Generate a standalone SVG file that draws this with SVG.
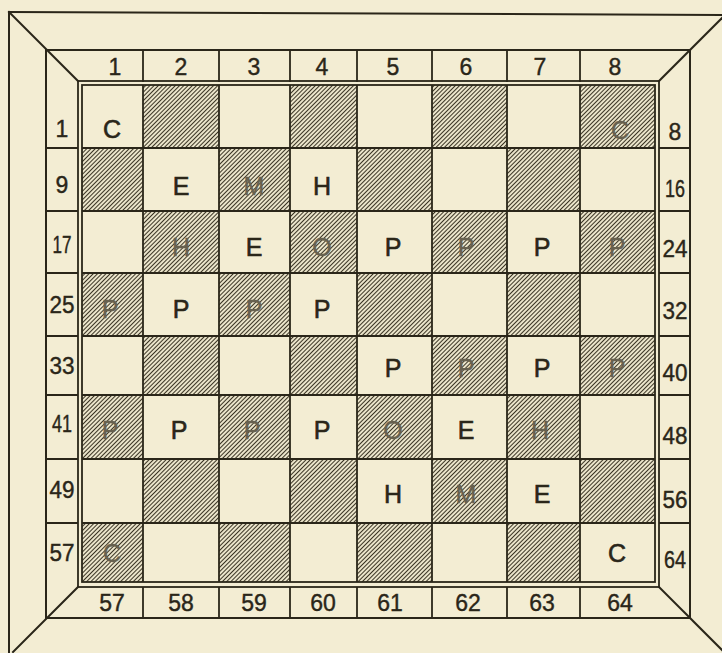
<svg xmlns="http://www.w3.org/2000/svg" width="722" height="653" viewBox="0 0 722 653">
<defs>
<pattern id="hatch" patternUnits="userSpaceOnUse" width="3" height="3" patternTransform="rotate(45)">
<rect width="3" height="3" fill="#f3edd3"/>
<line x1="1.5" y1="0" x2="1.5" y2="3" stroke="#3a3424" stroke-width="1.1"/>
</pattern>
<style>
.ln{stroke:#2a2619;stroke-width:2;fill:none;stroke-linecap:square}
.gl{stroke:#2a2619;stroke-width:1.8;fill:none}
.dk{fill:url(#hatch)}
.lb{font-family:"Liberation Sans",Arial,sans-serif;font-size:23px;fill:#2a2619;stroke:#2a2619;stroke-width:0.4;text-anchor:middle}
.sl{font-family:"Liberation Sans",Arial,sans-serif;font-size:23px;fill:#2a2619;stroke:#2a2619;stroke-width:0.4;text-anchor:middle}
.pc{font-family:"Liberation Sans",Arial,sans-serif;font-size:25px;fill:#2a2619;stroke:#2a2619;stroke-width:0.6;text-anchor:middle}
.pf{font-family:"Liberation Sans",Arial,sans-serif;font-size:25px;fill:#67614f;stroke:#67614f;stroke-width:0.4;text-anchor:middle}
</style>
</defs>
<rect width="722" height="653" fill="#f3edd3"/>

<g id="frame">
<line class="ln" x1="9" y1="12" x2="722" y2="15"/>
<line class="ln" x1="9" y1="12" x2="9" y2="653"/>
<line class="ln" x1="9" y1="12" x2="78" y2="81"/>
<line class="ln" x1="659" y1="81" x2="722" y2="18"/>
<line class="ln" x1="78" y1="587" x2="13" y2="652"/>
<line class="ln" x1="659" y1="587" x2="722" y2="650"/>
<rect class="ln" x="46" y="50" width="644" height="568"/>
</g>

<g id="squares">
<rect class="dk" x="143" y="85" width="76" height="63"/>
<rect class="dk" x="290" y="85" width="67" height="63"/>
<rect class="dk" x="432" y="85" width="75" height="63"/>
<rect class="dk" x="580" y="85" width="75" height="63"/>

<rect class="dk" x="82" y="148" width="61" height="63"/>
<rect class="dk" x="219" y="148" width="71" height="63"/>
<rect class="dk" x="357" y="148" width="75" height="63"/>
<rect class="dk" x="507" y="148" width="73" height="63"/>

<rect class="dk" x="143" y="211" width="76" height="62"/>
<rect class="dk" x="290" y="211" width="67" height="62"/>
<rect class="dk" x="432" y="211" width="75" height="62"/>
<rect class="dk" x="580" y="211" width="75" height="62"/>

<rect class="dk" x="82" y="273" width="61" height="63"/>
<rect class="dk" x="219" y="273" width="71" height="63"/>
<rect class="dk" x="357" y="273" width="75" height="63"/>
<rect class="dk" x="507" y="273" width="73" height="63"/>

<rect class="dk" x="143" y="336" width="76" height="59"/>
<rect class="dk" x="290" y="336" width="67" height="59"/>
<rect class="dk" x="432" y="336" width="75" height="59"/>
<rect class="dk" x="580" y="336" width="75" height="59"/>

<rect class="dk" x="82" y="395" width="61" height="64"/>
<rect class="dk" x="219" y="395" width="71" height="64"/>
<rect class="dk" x="357" y="395" width="75" height="64"/>
<rect class="dk" x="507" y="395" width="73" height="64"/>

<rect class="dk" x="143" y="459" width="76" height="64"/>
<rect class="dk" x="290" y="459" width="67" height="64"/>
<rect class="dk" x="432" y="459" width="75" height="64"/>
<rect class="dk" x="580" y="459" width="75" height="64"/>

<rect class="dk" x="82" y="523" width="61" height="59"/>
<rect class="dk" x="219" y="523" width="71" height="59"/>
<rect class="dk" x="357" y="523" width="75" height="59"/>
<rect class="dk" x="507" y="523" width="73" height="59"/>
</g>

<g id="grid">
<rect class="gl" x="82" y="85" width="573" height="497"/>
<rect class="gl" x="78" y="81" width="581" height="506"/>
<path class="gl" d="M143 50V82M219 50V82M290 50V82M357 50V82M432 50V82M507 50V82M580 50V82"/>
<path class="gl" d="M143 85V582M219 85V582M290 85V582M357 85V582M432 85V582M507 85V582M580 85V582"/>
<path class="gl" d="M143 587V618M219 587V618M290 587V618M357 587V618M432 587V618M507 587V618M580 587V618"/>
<path class="gl" d="M82 148H655M82 211H655M82 273H655M82 336H655M82 395H655M82 459H655M82 523H655"/>
<path class="gl" d="M46 148H78M46 211H78M46 273H78M46 336H78M46 395H78M46 459H78M46 523H78"/>
<path class="gl" d="M659 148H690M659 211H690M659 273H690M659 336H690M659 395H690M659 459H690M659 523H690"/>
</g>

<g id="top-labels">
<text class="lb" x="115" y="75">1</text>
<text class="lb" x="181" y="75">2</text>
<text class="lb" x="254" y="75">3</text>
<text class="lb" x="322" y="75">4</text>
<text class="lb" x="393" y="75">5</text>
<text class="lb" x="466" y="75">6</text>
<text class="lb" x="540" y="75">7</text>
<text class="lb" x="615" y="75">8</text>
</g>

<g id="bottom-labels">
<text class="lb" x="112" y="611">57</text>
<text class="lb" x="181" y="611">58</text>
<text class="lb" x="254" y="611">59</text>
<text class="lb" x="323" y="611">60</text>
<text class="lb" x="390" y="611">61</text>
<text class="lb" x="468" y="611">62</text>
<text class="lb" x="542" y="611">63</text>
<text class="lb" x="620" y="611">64</text>
</g>

<g id="left-labels">
<text class="sl" x="62" y="137">1</text>
<text class="sl" x="62" y="193">9</text>
<text class="sl" x="62" y="253" textLength="19" lengthAdjust="spacingAndGlyphs">17</text>
<text class="sl" x="62" y="313" textLength="25" lengthAdjust="spacingAndGlyphs">25</text>
<text class="sl" x="62" y="374" textLength="25" lengthAdjust="spacingAndGlyphs">33</text>
<text class="sl" x="62" y="432" textLength="20" lengthAdjust="spacingAndGlyphs">41</text>
<text class="sl" x="62" y="498" textLength="25" lengthAdjust="spacingAndGlyphs">49</text>
<text class="sl" x="62" y="561" textLength="25" lengthAdjust="spacingAndGlyphs">57</text>
</g>

<g id="right-labels">
<text class="sl" x="675" y="140">8</text>
<text class="sl" x="675" y="197" textLength="20" lengthAdjust="spacingAndGlyphs">16</text>
<text class="sl" x="675" y="257" textLength="25" lengthAdjust="spacingAndGlyphs">24</text>
<text class="sl" x="675" y="319" textLength="25" lengthAdjust="spacingAndGlyphs">32</text>
<text class="sl" x="675" y="381" textLength="25" lengthAdjust="spacingAndGlyphs">40</text>
<text class="sl" x="675" y="444" textLength="25" lengthAdjust="spacingAndGlyphs">48</text>
<text class="sl" x="675" y="508" textLength="25" lengthAdjust="spacingAndGlyphs">56</text>
<text class="sl" x="675" y="568" textLength="22" lengthAdjust="spacingAndGlyphs">64</text>
</g>

<g id="pieces">
<text class="pc" x="112" y="138">C</text>
<text class="pf" x="620" y="139">C</text>

<text class="pc" x="181" y="195">E</text>
<text class="pf" x="254" y="195">M</text>
<text class="pc" x="322" y="195">H</text>

<text class="pf" x="181" y="256">H</text>
<text class="pc" x="254" y="256">E</text>
<text class="pf" x="322" y="256">O</text>
<text class="pc" x="393" y="256">P</text>
<text class="pf" x="466" y="256">P</text>
<text class="pc" x="542" y="256">P</text>
<text class="pf" x="617" y="256">P</text>

<text class="pf" x="110" y="318">P</text>
<text class="pc" x="181" y="318">P</text>
<text class="pf" x="254" y="318">P</text>
<text class="pc" x="322" y="318">P</text>

<text class="pc" x="393" y="377">P</text>
<text class="pf" x="466" y="377">P</text>
<text class="pc" x="542" y="377">P</text>
<text class="pf" x="617" y="377">P</text>

<text class="pf" x="110" y="439">P</text>
<text class="pc" x="179" y="439">P</text>
<text class="pf" x="252" y="439">P</text>
<text class="pc" x="322" y="439">P</text>
<text class="pf" x="393" y="439">O</text>
<text class="pc" x="466" y="439">E</text>
<text class="pf" x="540" y="439">H</text>

<text class="pc" x="393" y="503">H</text>
<text class="pf" x="466" y="503">M</text>
<text class="pc" x="542" y="503">E</text>

<text class="pf" x="112" y="562">C</text>
<text class="pc" x="617" y="562">C</text>
</g>
</svg>
